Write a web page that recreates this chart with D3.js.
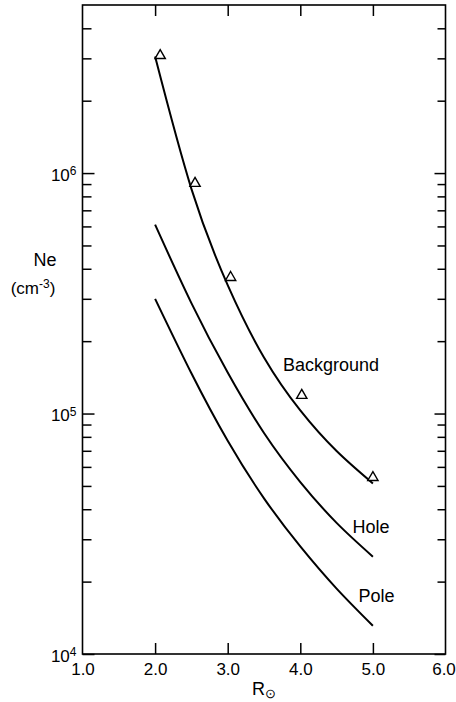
<!DOCTYPE html>
<html>
<head>
<meta charset="utf-8">
<script src="https://cdn.jsdelivr.net/npm/d3@7"></script>
<style>
  html, body { margin: 0; padding: 0; background: #fff; }
  svg { display: block; font-family: "Liberation Sans", Arial, sans-serif; }
  .tick line { stroke: #000; stroke-width: 1.5; }
  .tick text { fill: #000; font-size: 17px; }
  .curve { fill: none; stroke: #000; stroke-width: 2; }
  .obs { fill: #fff; stroke: #000; stroke-width: 1.4; }
  .label { font-size: 18px; fill: #000; }
</style>
</head>
<body>
<svg width="456" height="702"></svg>
<script>
// values (R in solar radii, Ne in cm^-3)
var radius = [2.0, 2.5, 3.0, 3.5, 4.0, 4.5, 5.0];
var background = [3.05e6, 8.6e5, 3.42e5, 1.71e5, 1.03e5, 6.98e4, 5.12e4];
var hole = [6.1e5, 2.88e5, 1.48e5, 8.3e4, 5.19e4, 3.51e4, 2.54e4];
var pole = [3.0e5, 1.47e5, 7.7e4, 4.44e4, 2.8e4, 1.87e4, 1.31e4];

// triangles (observations)
var obsRadius = [2.07, 2.55, 3.04, 4.02, 5.0];
var obsNe = [3.08e6, 9.06e5, 3.68e5, 1.19e5, 5.42e4];

// tick values
var xLabels = [1, 2, 3, 4, 5, 6];
var xInner = [2, 3, 4, 5];
var yMajor = [1e4, 1e5, 1e6];
var yMinor = [2e4, 3e4, 4e4, 5e4, 6e4, 7e4, 8e4, 9e4,
              2e5, 3e5, 4e5, 5e5, 6e5, 7e5, 8e5, 9e5,
              2e6, 3e6, 4e6];

var svg = d3.select("svg"),
    margin = { top: 5, right: 10.5, bottom: 48, left: 82.5 },
    width = +svg.attr("width") - margin.left - margin.right,
    height = +svg.attr("height") - margin.top - margin.bottom;

var x = d3.scaleLinear().domain([1, 6]).range([0, width]),
    y = d3.scaleLog().domain([1e4, 5e6]).range([height, 0]);

var g = svg.append("g")
    .attr("transform", "translate(" + margin.left + "," + margin.top + ")");

// frame
g.append("rect")
    .attr("width", width)
    .attr("height", height)
    .attr("fill", "none")
    .attr("stroke", "#000")
    .attr("stroke-width", 1.6);

// bottom axis: inward ticks at 2..5, labels 1.0..6.0
g.append("g")
    .attr("transform", "translate(0," + height + ")")
    .call(d3.axisBottom(x).tickValues(xInner).tickSize(-11).tickFormat(""));

g.append("g")
    .attr("transform", "translate(0," + height + ")")
    .call(d3.axisBottom(x).tickValues(xLabels).tickSize(0).tickPadding(9)
        .tickFormat(d3.format(".1f")))
    .selectAll(".tick text")
    .attr("dx", function (d) { return d === 6 ? -2 : 0; });

// top axis
g.append("g")
    .call(d3.axisTop(x).tickValues(xInner).tickSize(-11).tickFormat(""));

// left axis, major ticks with 10^n labels
g.append("g")
    .attr("class", "axis axis--y")
    .call(d3.axisLeft(y).tickValues(yMajor).tickSize(-12).tickPadding(6))
    .selectAll(".tick text")
    .attr("dy", "0.42em")
    .each(function (d) {
        var t = d3.select(this).text("10");
        t.append("tspan")
            .attr("dy", "-0.45em")
            .attr("font-size", "12px")
            .text(Math.round(Math.log10(d)));
    });

g.append("g")
    .call(d3.axisLeft(y).tickValues(yMinor).tickSize(-9).tickFormat(""));

// right axis
g.append("g")
    .attr("transform", "translate(" + width + ",0)")
    .call(d3.axisRight(y).tickValues(yMajor).tickSize(-11).tickFormat(""));

g.append("g")
    .attr("transform", "translate(" + width + ",0)")
    .call(d3.axisRight(y).tickValues(yMinor).tickSize(-8).tickFormat(""));

g.selectAll(".domain").remove();

// curves
var line = d3.line()
    .x(function (d) { return x(d[0]); })
    .y(function (d) { return y(d[1]); })
    .curve(d3.curveNatural);

[background, hole, pole].forEach(function (series) {
    g.append("path")
        .attr("class", "curve")
        .attr("d", line(d3.zip(radius, series)));
});

// open triangles
var tri = d3.symbol().type(d3.symbolTriangle).size(46);

g.selectAll(".obs")
    .data(d3.zip(obsRadius, obsNe))
    .enter().append("path")
    .attr("class", "obs")
    .attr("d", tri)
    .attr("transform", function (d) {
        return "translate(" + x(d[0]) + "," + y(d[1]) + ")";
    });

// curve labels
g.append("text").attr("class", "label")
    .attr("x", x(3.76)).attr("y", y(1.5e5))
    .text("Background");

g.append("text").attr("class", "label")
    .attr("x", x(4.72)).attr("y", y(3.2e4))
    .text("Hole");

g.append("text").attr("class", "label")
    .attr("x", x(4.8)).attr("y", y(1.65e4))
    .text("Pole");

// axis titles
svg.append("text")
    .attr("x", 45).attr("y", 266)
    .attr("text-anchor", "middle")
    .attr("font-size", "18px")
    .text("Ne");

var unit = svg.append("text")
    .attr("x", 33).attr("y", 294)
    .attr("text-anchor", "middle")
    .attr("font-size", "17px");
unit.append("tspan").text("(cm");
unit.append("tspan").attr("font-size", "12px").attr("dy", "-6").text("-3");
unit.append("tspan").attr("dy", "6").text(")");

var rlab = svg.append("text")
    .attr("x", margin.left + width / 2)
    .attr("y", 695)
    .attr("text-anchor", "middle")
    .attr("font-size", "18px");
rlab.append("tspan").text("R");
rlab.append("tspan").attr("font-size", "13px").attr("dy", "3").text("\u2299");
</script>
</body>
</html>
